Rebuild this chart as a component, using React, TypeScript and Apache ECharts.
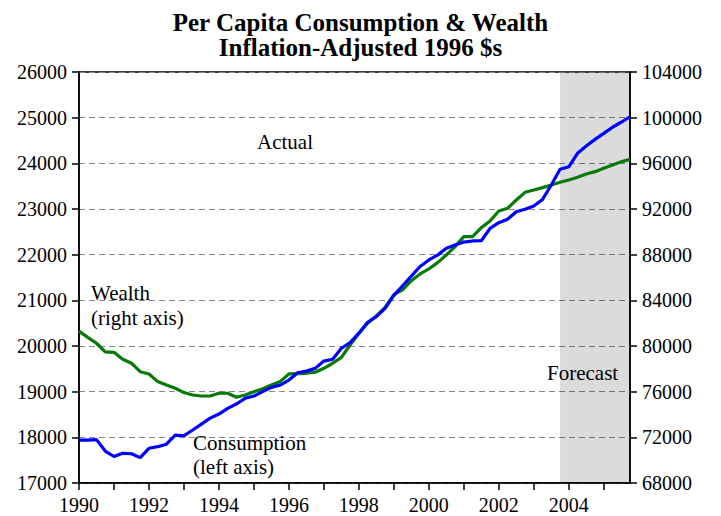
import React, { useEffect, useRef } from "react";
import * as echarts from "echarts";

const startYear = 1990;
const quartersPerYear = 4;

// Quarterly, 1990Q1 .. 2005Q4
const consumption = [
  17940, 17940, 17950, 17700,
  17580, 17650, 17640, 17555,
  17760, 17795, 17850, 18050,
  18035, 18160, 18290, 18420,
  18510, 18635, 18730, 18855,
  18905, 19000, 19095, 19145,
  19255, 19415, 19450, 19510,
  19670, 19710, 19950, 20075,
  20280, 20520, 20645, 20825,
  21110, 21320, 21530, 21740,
  21885, 21990, 22140, 22210,
  22275, 22300, 22305, 22575,
  22700, 22775, 22940, 22995,
  23065, 23210, 23525, 23870,
  23925, 24220, 24380, 24525,
  24655, 24790, 24900, 25020,
];

const wealth = [
  81300, 80760, 80240, 79480,
  79450, 78840, 78490, 77750,
  77550, 76880, 76590, 76300,
  75920, 75710, 75620, 75620,
  75860, 75860, 75510, 75710,
  76000, 76260, 76590, 76880,
  77550, 77580, 77610, 77700,
  78050, 78490, 79010, 80090,
  81110, 81990, 82630, 83390,
  84500, 84910, 85720, 86310,
  86750, 87300, 87970, 88700,
  89580, 89580, 90370, 90950,
  91830, 92060, 92790, 93460,
  93670, 93870, 94100, 94340,
  94540, 94780, 95070, 95270,
  95570, 95860, 96140, 96350,
];

const forecastStart = 2003.75;
const xMin = 1990;
const xMax = 2005.75;
const leftMin = 17000;
const leftMax = 26000;
const leftStep = 1000;
const rightMin = 68000;
const rightMax = 104000;
const rightStep = 4000;

const titleLines = ["Per Capita Consumption & Wealth", "Inflation-Adjusted 1996 $s"];

const FONT = "Liberation Serif";

export default function App() {
  const ref = useRef<HTMLDivElement>(null);

  useEffect(() => {
    document.body.style.margin = "0";
    if (!ref.current) return;
    const chart = echarts.init(ref.current, undefined, { renderer: "svg" });

    const toXY = (arr: number[]) =>
      arr.map((v, i) => [startYear + i / quartersPerYear, v]);

    const axisTextStyle = { color: "#000", fontFamily: FONT, fontSize: 20 };

    chart.setOption({
      animation: false,
      backgroundColor: "#fff",
      textStyle: { fontFamily: FONT },
      title: {
        text: titleLines.join("\n"),
        left: "center",
        top: 5,
        textStyle: {
          fontFamily: FONT,
          fontWeight: "bold",
          fontSize: 25,
          lineHeight: 25,
          color: "#000",
        },
      },
      grid: {
        left: 79,
        right: 91,
        top: 72,
        bottom: 33,
        show: true,
        borderColor: "#000",
        borderWidth: 1.5,
        backgroundColor: "transparent",
      },
      xAxis: {
        type: "value",
        min: xMin,
        max: xMax,
        interval: 1,
        axisLine: { show: true, lineStyle: { color: "#000", width: 1.5 } },
        axisTick: { show: true, inside: false, length: 7, lineStyle: { color: "#000", width: 1.5 } },
        axisLabel: {
          ...axisTextStyle,
          margin: 12,
          showMaxLabel: false,
          formatter: (v: number) => (Math.round(v) % 2 === 0 ? String(Math.round(v)) : ""),
        },
        splitLine: { show: false },
      },
      yAxis: [
        {
          type: "value",
          position: "left",
          min: leftMin,
          max: leftMax,
          interval: leftStep,
          axisLine: { show: true, lineStyle: { color: "#000", width: 1.5 } },
          axisTick: { show: true, inside: false, length: 7, lineStyle: { color: "#000", width: 1.5 } },
          axisLabel: { ...axisTextStyle, margin: 12, formatter: (v: number) => String(v) },
          splitLine: {
            show: true,
            lineStyle: { color: "#888", width: 1, type: [6, 4] },
          },
        },
        {
          type: "value",
          position: "right",
          min: rightMin,
          max: rightMax,
          interval: rightStep,
          axisLine: { show: true, lineStyle: { color: "#000", width: 1.5 } },
          axisTick: { show: true, inside: false, length: 7, lineStyle: { color: "#000", width: 1.5 } },
          axisLabel: { ...axisTextStyle, margin: 12, formatter: (v: number) => String(v) },
          splitLine: { show: false },
        },
      ],
      series: [
        {
          name: "shade",
          type: "line",
          data: [],
          z: 1,
          silent: true,
          markArea: {
            silent: true,
            itemStyle: { color: "rgba(0,0,0,0.14)" },
            data: [[{ xAxis: forecastStart }, { xAxis: xMax }]],
          },
        },
        {
          name: "Wealth",
          type: "line",
          yAxisIndex: 1,
          data: toXY(wealth),
          showSymbol: false,
          lineStyle: { color: "#087a08", width: 3.2 },
          z: 3,
        },
        {
          name: "Consumption",
          type: "line",
          yAxisIndex: 0,
          data: toXY(consumption),
          showSymbol: false,
          lineStyle: { color: "#0000ff", width: 3.2 },
          z: 4,
        },
      ],
      graphic: [
        {
          type: "text",
          left: 257,
          top: 131,
          z: 20,
          style: { text: "Actual", font: `21px ${FONT}`, fill: "#000" },
        },
        {
          type: "text",
          left: 547,
          top: 362,
          z: 20,
          style: { text: "Forecast", font: `21px ${FONT}`, fill: "#000" },
        },
        {
          type: "text",
          left: 91,
          top: 280,
          z: 20,
          style: {
            text: "Wealth\n(right axis)",
            font: `21px ${FONT}`,
            lineHeight: 25,
            fill: "#000",
          },
        },
        {
          type: "text",
          left: 193,
          top: 431,
          z: 20,
          style: {
            text: "Consumption\n(left axis)",
            font: `21px ${FONT}`,
            lineHeight: 24,
            fill: "#000",
          },
        },
      ],
    });

    return () => chart.dispose();
  }, []);

  return <div ref={ref} style={{ width: 721, height: 516 }} />;
}
